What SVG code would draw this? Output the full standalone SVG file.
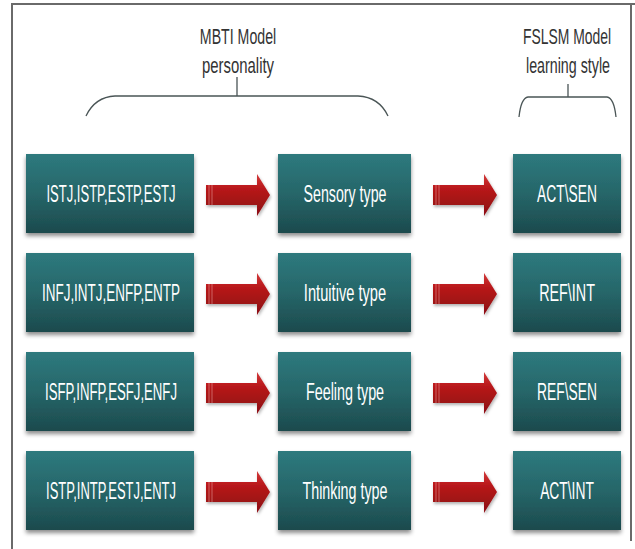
<svg xmlns="http://www.w3.org/2000/svg" xmlns:xlink="http://www.w3.org/1999/xlink" width="635" height="549" viewBox="0 0 635 549">
  <defs>
    <linearGradient id="boxGrad" x1="0" y1="0" x2="0" y2="1">
      <stop offset="0" stop-color="#2e7a7e"/>
      <stop offset="0.5" stop-color="#266669"/>
      <stop offset="1" stop-color="#1c4a4d"/>
    </linearGradient>
    <linearGradient id="arrowGrad" x1="0" y1="0" x2="0" y2="1">
      <stop offset="0" stop-color="#d23a3a"/>
      <stop offset="0.35" stop-color="#b8171a"/>
      <stop offset="1" stop-color="#8a0f12"/>
    </linearGradient>
    <filter id="shadow" x="-10%" y="-10%" width="120%" height="130%">
      <feDropShadow dx="0" dy="3" stdDeviation="2" flood-color="#000" flood-opacity="0.45"/>
    </filter>
    <filter id="ashadow" x="-10%" y="-20%" width="130%" height="150%">
      <feDropShadow dx="1" dy="2" stdDeviation="1.5" flood-color="#000" flood-opacity="0.3"/>
    </filter>
    <g id="arrow">
      <path d="M0,-10 H51 V-21 L64,0 L51,21 V10 H0 Z" fill="url(#arrowGrad)" filter="url(#ashadow)"/>
      <path d="M3,-10 V10 M6,-10 V10" stroke="#e8a0a0" stroke-width="0.8" opacity="0.7"/>
    </g>
  </defs>
  <style>
    .box { fill: url(#boxGrad); filter: url(#shadow); }
    .lbl { font-family: "Liberation Sans", Arial, sans-serif; font-size: 23px; fill: #ffffff; text-anchor: middle; }
    .hdr { font-family: "Liberation Sans", Arial, sans-serif; font-size: 22px; fill: #333333; text-anchor: middle; }
    .brace { fill: none; stroke: #4a5556; stroke-width: 1.3; }
    .frame { fill: none; stroke: #6a6a6a; stroke-width: 2; }
  </style>

  <rect width="635" height="549" fill="#ffffff"/>
  <path class="frame" d="M12,549 V4 H635"/>
  <path class="frame" d="M631,4 V541"/>

  <g id="header-mbti">
    <text class="hdr" transform="translate(238,44) scale(0.7,1)" x="0" y="0" textLength="109" lengthAdjust="spacingAndGlyphs">MBTI Model</text>
    <text class="hdr" transform="translate(238,73) scale(0.7,1)" x="0" y="0" textLength="103" lengthAdjust="spacingAndGlyphs">personality</text>
    <path class="brace" d="M86,116 Q95,97 115,96 H358 Q379,97 388,116 M237,77 V96"/>
  </g>
  <g id="header-fslsm">
    <text class="hdr" transform="translate(567,44) scale(0.7,1)" x="0" y="0" textLength="126" lengthAdjust="spacingAndGlyphs">FSLSM Model</text>
    <text class="hdr" transform="translate(568,73) scale(0.7,1)" x="0" y="0" textLength="120" lengthAdjust="spacingAndGlyphs">learning style</text>
    <path class="brace" d="M519,117 Q521,98 528,97 H607 Q614,98 616,117 M568,84 V97"/>
  </g>

  <g id="node-r1-types">
    <rect class="box" x="26" y="154" width="168" height="79"/>
    <text class="lbl" transform="translate(111,202) scale(0.68,1)" x="0" y="0" textLength="190" lengthAdjust="spacingAndGlyphs">ISTJ,ISTP,ESTP,ESTJ</text>
  </g>
  <g id="node-r1-dim">
    <rect class="box" x="278" y="154" width="133" height="79"/>
    <text class="lbl" transform="translate(345,202) scale(0.68,1)" x="0" y="0" textLength="122" lengthAdjust="spacingAndGlyphs">Sensory type</text>
  </g>
  <g id="node-r1-style">
    <rect class="box" x="513" y="154" width="108" height="79"/>
    <text class="lbl" transform="translate(567,202) scale(0.68,1)" x="0" y="0" textLength="88" lengthAdjust="spacingAndGlyphs">ACT\SEN</text>
  </g>

  <g id="node-r2-types">
    <rect class="box" x="26" y="253" width="168" height="79"/>
    <text class="lbl" transform="translate(111,301) scale(0.68,1)" x="0" y="0" textLength="203" lengthAdjust="spacingAndGlyphs">INFJ,INTJ,ENFP,ENTP</text>
  </g>
  <g id="node-r2-dim">
    <rect class="box" x="278" y="253" width="133" height="79"/>
    <text class="lbl" transform="translate(345,301) scale(0.68,1)" x="0" y="0" textLength="121" lengthAdjust="spacingAndGlyphs">Intuitive type</text>
  </g>
  <g id="node-r2-style">
    <rect class="box" x="513" y="253" width="108" height="79"/>
    <text class="lbl" transform="translate(567,301) scale(0.68,1)" x="0" y="0" textLength="82" lengthAdjust="spacingAndGlyphs">REF\INT</text>
  </g>

  <g id="node-r3-types">
    <rect class="box" x="26" y="352" width="168" height="79"/>
    <text class="lbl" transform="translate(111,400) scale(0.68,1)" x="0" y="0" textLength="194" lengthAdjust="spacingAndGlyphs">ISFP,INFP,ESFJ,ENFJ</text>
  </g>
  <g id="node-r3-dim">
    <rect class="box" x="278" y="352" width="133" height="79"/>
    <text class="lbl" transform="translate(345,400) scale(0.68,1)" x="0" y="0" textLength="115" lengthAdjust="spacingAndGlyphs">Feeling type</text>
  </g>
  <g id="node-r3-style">
    <rect class="box" x="513" y="352" width="108" height="79"/>
    <text class="lbl" transform="translate(567,400) scale(0.68,1)" x="0" y="0" textLength="88" lengthAdjust="spacingAndGlyphs">REF\SEN</text>
  </g>

  <g id="node-r4-types">
    <rect class="box" x="26" y="451" width="168" height="79"/>
    <text class="lbl" transform="translate(111,499) scale(0.68,1)" x="0" y="0" textLength="191" lengthAdjust="spacingAndGlyphs">ISTP,INTP,ESTJ,ENTJ</text>
  </g>
  <g id="node-r4-dim">
    <rect class="box" x="278" y="451" width="133" height="79"/>
    <text class="lbl" transform="translate(345,499) scale(0.68,1)" x="0" y="0" textLength="125" lengthAdjust="spacingAndGlyphs">Thinking type</text>
  </g>
  <g id="node-r4-style">
    <rect class="box" x="513" y="451" width="108" height="79"/>
    <text class="lbl" transform="translate(567,499) scale(0.68,1)" x="0" y="0" textLength="79" lengthAdjust="spacingAndGlyphs">ACT\INT</text>
  </g>

  <g id="connectors">
    <use xlink:href="#arrow" href="#arrow" transform="translate(206,195)"/>
    <use xlink:href="#arrow" href="#arrow" transform="translate(433,195)"/>
    <use xlink:href="#arrow" href="#arrow" transform="translate(206,294)"/>
    <use xlink:href="#arrow" href="#arrow" transform="translate(433,294)"/>
    <use xlink:href="#arrow" href="#arrow" transform="translate(206,393)"/>
    <use xlink:href="#arrow" href="#arrow" transform="translate(433,393)"/>
    <use xlink:href="#arrow" href="#arrow" transform="translate(206,492)"/>
    <use xlink:href="#arrow" href="#arrow" transform="translate(433,492)"/>
  </g>
</svg>
